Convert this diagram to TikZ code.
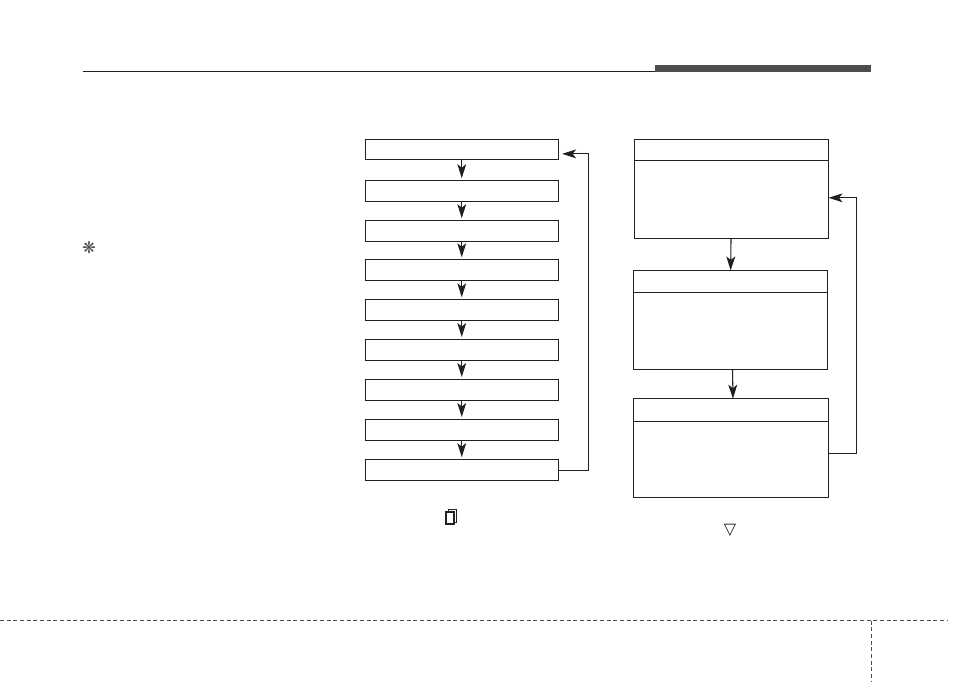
\documentclass[tikz,border=0pt]{standalone}
\usepackage{fontspec}
\usepackage{tikz}
\usetikzlibrary{positioning, arrows.meta}
\newfontfamily\symbolfont{DejaVu Sans}
\definecolor{headgray}{RGB}{77,77,77}
\definecolor{inkblack}{RGB}{35,31,32}

\begin{document}
\begin{tikzpicture}[>={Stealth[length=10.5pt, width=6.6pt, inset=2.6pt]}, x=0.75pt, y=0.75pt, line width=0.8pt, color=inkblack,
  stepbox/.style={draw, rectangle, outer sep=0pt, minimum width=144.5pt, minimum height=15.4pt},
  panelhead/.style={draw, rectangle, outer sep=0pt, minimum width=145.5pt, minimum height=16.2pt},
  panelbody/.style={draw, rectangle, outer sep=0pt, minimum width=145.5pt},
  pagesheet/.style={draw, fill=white, line width=0.6pt},
  footline/.style={headgray, line width=0.8pt, dash pattern=on 3pt off 2pt}]

\useasboundingbox (0,0) rectangle (954,-685);

% page furniture
\coordinate (rule_start) at (83,-71.5);
\node (head_bar) [fill=headgray, inner sep=0pt, outer sep=0pt, minimum width=162pt, minimum height=5.2pt] at (763,-68.5) {};
\draw (rule_start) -- (rule_start -| head_bar.west);
\coordinate (foot_left) at (0,-620.5);
\coordinate (foot_right) at (947,-620.5);
\coordinate (foot_corner) at (871.5,-620.5);
\coordinate (foot_end) at (871.5,-682);
\draw[footline] (foot_left) -- (foot_right);
\draw[footline] (foot_corner) -- (foot_end);
\node (note_mark) [text=headgray] at (89,-248) {\symbolfont\large ❋};

% left chain
\node (step_one) [stepbox] at (461.75,-149.6) {};
\node (step_two) [stepbox, below=15.75pt of step_one] {};
\node (step_three) [stepbox, below=14.6pt of step_two] {};
\node (step_four) [stepbox, below=13.9pt of step_three] {};
\node (step_five) [stepbox, below=14.6pt of step_four] {};
\node (step_six) [stepbox, below=14.4pt of step_five] {};
\node (step_seven) [stepbox, below=14.6pt of step_six] {};
\node (step_eight) [stepbox, below=14.6pt of step_seven] {};
\node (step_nine) [stepbox, below=14.7pt of step_eight] {};

\draw[->, shorten >=2pt] (step_one) -- (step_two);
\draw[->, shorten >=2pt] (step_two) -- (step_three);
\draw[->, shorten >=2pt] (step_three) -- (step_four);
\draw[->, shorten >=2pt] (step_four) -- (step_five);
\draw[->, shorten >=2pt] (step_five) -- (step_six);
\draw[->, shorten >=2pt] (step_six) -- (step_seven);
\draw[->, shorten >=2pt] (step_seven) -- (step_eight);
\draw[->, shorten >=2pt] (step_eight) -- (step_nine);
\draw[->, shorten >=3pt] (step_nine.east) -- ++(30.5,0) |- ([yshift=-3.2pt]step_one.east);

% right panels
\node (panel_one_head) [panelhead] at (731.5,-150) {};
\node (panel_one_body) [panelbody, minimum height=58.5pt, below=0pt of panel_one_head] {};
\node (panel_two_head) [panelhead, minimum height=16.5pt] at (730.5,-281.5) {};
\node (panel_two_body) [panelbody, minimum height=57.4pt, below=0pt of panel_two_head] {};
\node (panel_three_head) [panelhead, minimum width=146.25pt, minimum height=16.9pt] at (731,-410) {};
\node (panel_three_body) [panelbody, minimum width=146.25pt, minimum height=57pt, below=0pt of panel_three_head] {};

\draw[->] (panel_one_body) -- (panel_two_head);
\draw[->] ([xshift=1.5pt]panel_two_body.south) -- ([xshift=1.5pt]panel_three_head.north);
\draw[->] ([yshift=4.5pt]panel_three_body.east) -- ++(28,0) |- ([yshift=1.5pt]panel_one_body.east);

% page icon and down mark
\node (page_back) [pagesheet, inner sep=0pt, outer sep=0pt, minimum width=6.4pt, minimum height=9.2pt] at (452.5,-516) {};
\node (page_front) [pagesheet, line width=1.2pt, inner sep=0pt, outer sep=0pt, minimum width=5.6pt, minimum height=9pt] at (450,-518) {};
\node (down_mark) at (730,-530.5) {\symbolfont\large ▽};

\end{tikzpicture}
\end{document}
